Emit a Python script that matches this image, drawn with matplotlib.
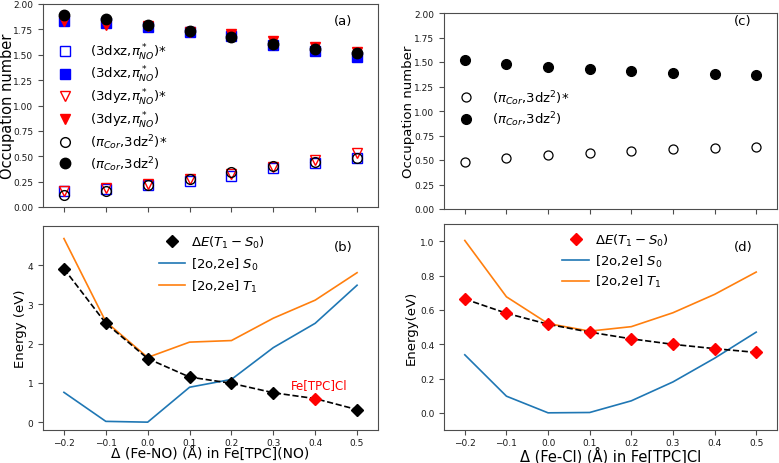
import matplotlib
matplotlib.use("Agg")
import matplotlib.pyplot as plt

W, H = 779, 464

x = [-0.2, -0.1, 0.0, 0.1, 0.2, 0.3, 0.4, 0.5]

# Panel (a) occupation numbers, Fe[TPC](NO)
dxz_star = [0.16, 0.18, 0.22, 0.26, 0.31, 0.38, 0.43, 0.48]
dxz = [1.83, 1.81, 1.77, 1.72, 1.68, 1.60, 1.54, 1.48]
dyz_star = [0.16, 0.19, 0.23, 0.28, 0.33, 0.39, 0.46, 0.53]
dyz = [1.83, 1.79, 1.78, 1.72, 1.70, 1.64, 1.58, 1.53]
pic_star_a = [0.12, 0.16, 0.22, 0.28, 0.34, 0.40, 0.44, 0.48]
pic_a = [1.89, 1.85, 1.79, 1.73, 1.67, 1.61, 1.56, 1.52]

# Panel (c) occupation numbers, Fe[TPC]Cl
pic_star_c = [0.48, 0.52, 0.55, 0.57, 0.59, 0.61, 0.62, 0.63]
pic_c = [1.52, 1.48, 1.45, 1.43, 1.41, 1.39, 1.38, 1.37]

# Panel (b) energies, Fe[TPC](NO)
dE_b = [3.91, 2.52, 1.62, 1.15, 0.99, 0.75, 0.60, 0.32]
S0_b = [0.76, 0.02, 0.00, 0.89, 1.09, 1.90, 2.52, 3.49]
T1_b = [4.68, 2.56, 1.65, 2.04, 2.08, 2.65, 3.11, 3.81]

# Panel (d) energies, Fe[TPC]Cl
dE_d = [0.663, 0.580, 0.516, 0.470, 0.431, 0.399, 0.374, 0.352]
S0_d = [0.338, 0.097, 0.000, 0.002, 0.070, 0.180, 0.318, 0.470]
T1_d = [1.004, 0.676, 0.520, 0.476, 0.502, 0.583, 0.690, 0.820]

yt_occ = [0.00, 0.25, 0.50, 0.75, 1.00, 1.25, 1.50, 1.75, 2.00]
yt_b = [0, 1, 2, 3, 4]
yt_d = [0.0, 0.2, 0.4, 0.6, 0.8, 1.0]

plt.rcParams['font.family'] = ['DejaVu Sans']
fig = plt.figure(figsize=(W / 100, H / 100), dpi=100)


def ax_at(l, r, t, b):
    return fig.add_axes([l / W, 1 - b / H, (r - l) / W, (b - t) / H])


axa = ax_at(43, 378, 5, 208)
axb = ax_at(43, 378, 227, 431)
axc = ax_at(444, 777, 14, 210)
axd = ax_at(444, 777, 225, 431)

spc = '0.3'
for ax in (axa, axb, axc, axd):
    ax.set_xlim(-0.25, 0.55)
    ax.set_xticks(x)
    ax.tick_params(labelsize=6.5, colors=spc, labelcolor='0.1', width=0.8, length=3.5)
    ax.tick_params(axis='x', pad=2.5)
    for s in ax.spines.values():
        s.set_color(spc)

ms = 7
# (a)
axa.plot(x, dxz_star, 's', ms=ms, mfc='none', mec='blue', mew=1.0, label=r'(3dxz,$\pi^*_{NO}$)*')
axa.plot(x, dxz, 's', ms=ms, color='blue', label=r'(3dxz,$\pi^*_{NO}$)')
axa.plot(x, dyz_star, 'v', ms=ms, mfc='none', mec='red', mew=1.0, label=r'(3dyz,$\pi^*_{NO}$)*')
axa.plot(x, dyz, 'v', ms=ms, color='red', label=r'(3dyz,$\pi^*_{NO}$)')
axa.plot(x, pic_star_a, 'o', ms=ms, mfc='none', mec='black', mew=1.0, label=r'($\pi_{Cor}$,3dz$^2$)*')
axa.plot(x, pic_a, 'o', ms=ms + 0.5, color='black', label=r'($\pi_{Cor}$,3dz$^2$)')
axa.set_ylim(0, 2)
axa.set_yticks(yt_occ)
axa.tick_params(labelbottom=False)
axa.set_ylabel('Occupation number', fontsize=10.5)
axa.yaxis.set_label_coords(-0.085, 0.5)
axa.legend(loc='upper left', bbox_to_anchor=(0.0, 0.86), frameon=False, fontsize=9.5,
           handletextpad=0.9, labelspacing=0.2, borderaxespad=0.3)
axa.text(0.896, 0.921, '(a)', transform=axa.transAxes, fontsize=9.5, ha='center', va='center')

# (c)
axc.plot(x, pic_star_c, 'o', ms=ms - 0.5, mfc='white', mec='black', mew=0.9, label=r'($\pi_{Cor}$,3dz$^2$)*')
axc.plot(x, pic_c, 'o', ms=ms, color='black', label=r'($\pi_{Cor}$,3dz$^2$)')
axc.set_ylim(0, 2)
axc.set_yticks(yt_occ)
axc.tick_params(labelbottom=False)
axc.set_ylabel('Occupation number', fontsize=9.5)
axc.yaxis.set_label_coords(-0.087, 0.5)
axc.legend(loc='upper left', bbox_to_anchor=(0.0, 0.665), frameon=False, fontsize=9.5,
           handletextpad=0.9, labelspacing=0.2, borderaxespad=0.3)
axc.text(0.898, 0.964, '(c)', transform=axc.transAxes, fontsize=9.5, ha='center', va='center')

# (b)
axb.plot(x, dE_b, '--', color='black', lw=1.2, zorder=3)
axb.plot(x[:6] + x[7:], dE_b[:6] + dE_b[7:], 'D', ms=6, color='black', ls='none', zorder=4,
         label=r'$\Delta E(T_1-S_0)$')
axb.plot(x, S0_b, '-', color='#1f77b4', lw=1.2, label=r'[2o,2e] $S_0$')
axb.plot(x, T1_b, '-', color='#ff7f0e', lw=1.2, label=r'[2o,2e] $T_1$')
axb.plot([x[6]], [dE_b[6]], 'D', ms=6, color='red', zorder=4)
axb.text(0.41, 0.95, 'Fe[TPC]Cl', color='red', fontsize=8.5, ha='center', va='center')
axb.set_ylim(-0.2, 5)
axb.set_yticks(yt_b)
axb.set_ylabel('Energy (eV)', fontsize=9.5)
axb.yaxis.set_label_coords(-0.048, 0.5)
axb.set_xlabel('Δ (Fe-NO) (Å) in Fe[TPC](NO)', fontsize=10)
axb.xaxis.set_label_coords(0.5, -0.078)
h, l = axb.get_legend_handles_labels()
axb.legend(h, l, loc='upper left', bbox_to_anchor=(0.31, 1.02), frameon=False, fontsize=9.5,
           handletextpad=0.45, labelspacing=0.45, handlelength=2.0)
axb.text(0.896, 0.90, '(b)', transform=axb.transAxes, fontsize=9.5, ha='center', va='center')

# (d)
axd.plot(x, dE_d, '--', color='black', lw=1.2, zorder=3)
axd.plot(x, dE_d, 'D', ms=6, color='red', ls='none', zorder=4, label=r'$\Delta E(T_1-S_0)$')
axd.plot(x, S0_d, '-', color='#1f77b4', lw=1.2, label=r'[2o,2e] $S_0$')
axd.plot(x, T1_d, '-', color='#ff7f0e', lw=1.2, label=r'[2o,2e] $T_1$')
axd.set_ylim(-0.1, 1.1)
axd.set_yticks(yt_d)
axd.set_ylabel('Energy(eV)', fontsize=9.5)
axd.yaxis.set_label_coords(-0.078, 0.5)
axd.set_xlabel('Δ (Fe-Cl) (Å) in Fe[TPC]Cl', fontsize=10.5)
axd.xaxis.set_label_coords(0.5, -0.077)
axd.legend(loc='upper left', bbox_to_anchor=(0.32, 1.02), frameon=False, fontsize=9.5,
           handletextpad=0.45, labelspacing=0.35, handlelength=2.0)
axd.text(0.898, 0.893, '(d)', transform=axd.transAxes, fontsize=9.5, ha='center', va='center')

fig.savefig('out.png', dpi=100)
